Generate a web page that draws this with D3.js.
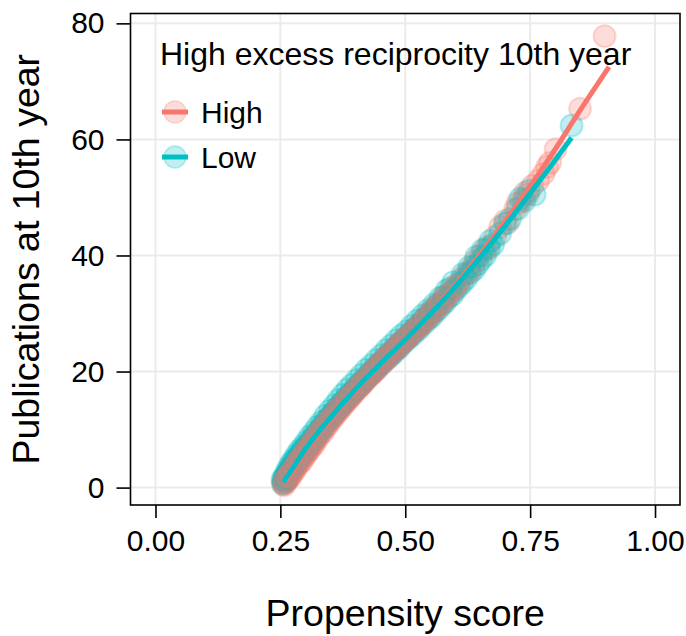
<!DOCTYPE html>
<html><head><meta charset="utf-8">
<script src="https://cdn.jsdelivr.net/npm/d3@7"></script>
<style>body{margin:0;background:#fff}svg{display:block}text{font-family:"Liberation Sans",Arial,Helvetica,sans-serif;fill:#000}</style>
</head><body><svg id="c" width="686" height="636"></svg>
<script>
// ---- data ----
const xTicks = [0, 0.25, 0.5, 0.75, 1];
const xTickLabels = ["0.00", "0.25", "0.50", "0.75", "1.00"];
const yTicks = [0, 20, 40, 60, 80];
const yTickLabels = ["0", "20", "40", "60", "80"];
const groups = ["High", "Low"];
const groupColors = ["#F8766D", "#00BFC4"];
const legendTitle = "High excess reciprocity 10th year";
const xTitle = "Propensity score";
const yTitle = "Publications at 10th year";

const highX = [0.262,0.268,0.275,0.282,0.290,0.298,0.305,0.313,0.320,0.330,0.340,0.350,0.360,0.370,0.380,0.390,0.400,0.410,0.420,0.430,0.440,0.450,0.460,0.470,0.480,0.490,0.500,0.510,0.520,0.530,0.540,0.550,0.560,0.575,0.590,0.605,0.620,0.635,0.650,0.665,0.680,0.690,0.705,0.720,0.735,0.745,0.755,0.766,0.777,0.784,0.790,0.801,0.850,0.899,
  0.258,0.265,0.271,0.278,0.285,0.293,0.301,0.309,0.317,0.325,0.335,0.345,0.355,0.365,0.375,0.385,0.395,0.405,0.415,0.425,0.435,0.445,0.455,0.465,0.475,0.485,0.495,0.505,0.515,0.525,0.535,0.545,0.555,0.567,0.582,0.597,0.612,0.627,
  0.256,0.260,0.266,0.273,0.280,0.287,0.295,0.303,0.311,0.319,0.328,0.337,0.347,0.357,0.367,0.378,0.388,0.398,0.409,0.419,0.429,0.439,0.449,0.459,0.469,0.479,0.489,0.499,0.511,0.523,0.536,0.549,0.563,0.578,0.640,0.660,0.700,0.725,0.740,
  0.259,0.264,0.270,0.277,0.284,0.291,0.299,0.307,0.315,0.323,0.332,0.342,0.352,0.362,0.372,0.383,0.393,0.404,0.414,0.424,0.434,0.444,0.454,0.464,0.474,0.484,0.494,0.504,0.516,0.528,0.541,0.554,0.568,0.584,0.600];
const highY = [1.0,1.6,2.6,3.4,4.3,5.3,6.2,7.2,8.0,9.2,10.3,11.5,12.6,13.6,14.7,15.6,16.7,17.5,18.6,19.4,20.4,21.3,22.1,23.0,23.9,24.6,25.6,26.4,27.3,28.0,29.0,29.8,30.7,32.0,33.6,35.0,36.6,38.0,40.0,41.5,43.2,44.9,45.6,48.0,49.6,50.5,52.0,52.9,54.1,55.3,56.0,58.3,65.3,77.8,
  0.4,1.5,2.0,2.9,3.9,4.6,5.7,6.5,7.4,8.5,9.6,10.8,11.9,13.0,14.0,15.0,16.0,17.0,17.9,18.9,19.7,20.6,21.6,22.4,23.3,24.1,25.0,25.8,26.7,27.5,28.4,29.3,30.1,31.3,32.6,34.1,35.8,37.2,
  0.7,1.3,2.1,3.0,3.8,4.8,5.6,6.6,7.5,8.4,9.6,10.5,11.6,12.5,13.6,14.6,15.7,16.5,17.6,18.4,19.5,20.3,21.3,22.0,23.0,23.8,24.8,25.5,26.6,27.6,28.7,30.0,31.2,32.8,39.0,41.0,46.0,49.0,50.8,
  1.1,1.9,2.4,3.4,4.3,5.1,6.1,7.0,7.9,8.9,9.9,11.1,12.0,13.2,14.1,15.2,16.1,17.2,18.0,19.0,19.9,20.8,21.8,22.6,23.5,24.3,25.2,26.0,27.0,28.0,29.2,30.4,31.7,33.2,34.6];

const lowX = [0.255,0.256,0.257,0.258,0.260,0.261,0.263,0.265,0.267,0.270,0.272,0.275,0.278,0.280,0.283,0.286,0.290,0.293,0.296,0.300,0.304,0.308,0.312,0.316,0.320,0.325,0.330,0.334,0.338,0.343,0.348,0.352,0.357,0.362,0.367,0.372,0.377,0.382,0.387,0.392,0.397,0.402,0.408,0.413,0.418,0.424,0.430,0.435,0.441,0.447,0.453,0.459,0.465,0.471,0.477,0.483,0.489,0.495,0.501,0.507,0.514,0.520,0.527,0.533,0.540,0.547,0.553,0.560,0.567,0.574,0.580,0.587,0.594,0.600,0.607,0.614,0.622,0.630,0.638,0.645,0.652,0.660,0.668,0.676,0.690,0.710,0.725,0.739,0.748,0.759,0.833,
  0.254,0.259,0.262,0.266,0.271,0.276,0.282,0.288,0.295,0.302,0.309,0.317,0.324,0.332,0.340,0.349,0.358,0.366,0.375,0.384,0.393,0.403,0.412,0.422,0.432,0.442,0.452,0.462,0.472,0.482,0.492,0.503,0.513,0.524,0.535,0.546,0.558,0.570,0.583,0.596,
  0.257,0.262,0.268,0.274,0.281,0.289,0.297,0.305,0.314,0.322,0.331,0.341,0.351,0.361,0.371,0.381,0.391,0.401,0.411,0.421,0.431,0.441,0.451,0.461,0.471,0.481,0.491,0.502,0.513,0.525,0.537,0.550,0.563,0.577,0.591,0.615,0.628,0.642,0.655,0.670,0.700,0.730];
const lowY = [0.6,1.0,0.8,1.3,1.1,1.8,2.2,2.0,2.9,3.1,3.6,3.8,4.5,4.4,5.1,5.3,5.9,6.0,6.6,6.8,7.4,7.6,8.3,8.5,9.2,9.4,10.1,10.8,10.9,11.7,12.0,12.6,12.9,13.6,13.9,14.5,14.8,15.5,15.7,16.3,16.6,17.2,17.5,18.2,18.4,19.1,19.4,20.0,20.2,21.0,21.3,21.9,22.3,22.8,23.2,23.9,24.2,24.9,25.3,25.8,26.3,26.9,27.3,28.0,28.5,29.1,29.5,30.3,30.8,31.5,32.0,32.8,33.2,34.0,34.6,35.3,36.0,37.0,37.6,38.5,39.3,40.0,41.2,41.9,43.8,46.3,48.0,49.4,51.2,50.5,62.4,
  1.4,2.0,2.6,3.4,4.1,4.8,5.6,6.4,7.1,7.9,8.8,9.6,10.5,11.3,12.4,13.3,14.2,15.1,16.0,16.9,17.7,18.6,19.4,20.3,21.1,22.0,22.8,23.7,24.5,25.4,26.2,27.0,27.9,28.8,29.7,30.6,31.6,32.7,34.0,35.4,
  1.6,1.5,2.5,3.3,4.0,5.0,5.9,6.9,7.9,8.8,9.9,11.0,12.1,13.1,14.1,15.1,16.1,17.0,17.9,18.8,19.8,20.7,21.5,22.5,23.3,24.2,25.0,25.9,26.9,27.9,29.0,30.2,31.4,32.9,34.4,36.8,38.0,39.8,41.0,42.5,45.5,49.8];

const highFitX = [0.262,0.30,0.35,0.40,0.45,0.50,0.55,0.60,0.65,0.70,0.75,0.80,0.85,0.908];
const highFitY = [1.2,6.3,11.7,16.7,21.2,25.5,30.0,34.9,40.2,45.9,51.9,58.3,65.0,72.5];
const lowFitX = [0.256,0.28,0.30,0.35,0.40,0.45,0.50,0.55,0.60,0.65,0.70,0.75,0.80,0.833];
const lowFitY = [1.0,4.0,6.6,12.0,16.9,21.3,25.5,29.9,34.6,39.7,45.1,50.7,56.4,60.3];

// ---- layout ----
const svg = d3.select("#c");
const L = 130.5, R = 680, T = 13.5, B = 505;
const x = d3.scaleLinear().domain([-0.05, 1.05]).range([L, R]);
const y = d3.scaleLinear().domain([-3.0, 81.7]).range([B, T]);
const FS = 30, TS = 37.5;

// grid
const g = svg.append("g");
g.selectAll(".gx").data(xTicks).enter().append("line")
  .attr("x1", d => x(d)).attr("x2", d => x(d)).attr("y1", T).attr("y2", B)
  .attr("stroke", "#EBEBEB").attr("stroke-width", 2);
g.selectAll(".gy").data(yTicks).enter().append("line")
  .attr("y1", d => y(d)).attr("y2", d => y(d)).attr("x1", L).attr("x2", R)
  .attr("stroke", "#EBEBEB").attr("stroke-width", 2);

// points (interleaved drawing order)
const pts = [];
const nH = highX.length, nL = lowX.length;
highX.forEach((v, i) => pts.push({x: v, y: highY[i], g: 0, o: (i + 0.5) / nH}));
lowX.forEach((v, i) => pts.push({x: v, y: lowY[i], g: 1, o: i / nL}));
pts.sort((a, b) => a.o - b.o);
svg.append("g").selectAll("circle").data(pts).enter().append("circle")
  .attr("cx", d => x(d.x)).attr("cy", d => y(d.y)).attr("r", 11)
  .attr("fill", d => groupColors[d.g]).attr("fill-opacity", 0.25)
  .attr("stroke", d => groupColors[d.g]).attr("stroke-opacity", 0.25).attr("stroke-width", 2);

// fitted lines
const line = d3.line().x(d => x(d[0])).y(d => y(d[1])).curve(d3.curveMonotoneX);
const fits = [d3.zip(highFitX, highFitY), d3.zip(lowFitX, lowFitY)];
fits.forEach((f, i) => svg.append("path").attr("d", line(f)).attr("fill", "none")
  .attr("stroke", groupColors[i]).attr("stroke-width", 5));

// panel border
svg.append("rect").attr("x", L).attr("y", T).attr("width", R - L).attr("height", B - T)
  .attr("fill", "none").attr("stroke", "#000").attr("stroke-width", 1.6);

// axes
const xa = svg.append("g").attr("transform", `translate(0,${B})`)
  .call(d3.axisBottom(x).tickValues(xTicks).tickFormat((d, i) => xTickLabels[i]).tickSize(13).tickPadding(12));
const ya = svg.append("g").attr("transform", `translate(${L},0)`)
  .call(d3.axisLeft(y).tickValues(yTicks).tickFormat((d, i) => yTickLabels[i]).tickSize(14).tickPadding(12));
[xa, ya].forEach(a => {
  a.select(".domain").remove();
  a.selectAll(".tick line").attr("stroke", "#000").attr("stroke-width", 1.6);
  a.selectAll(".tick text").attr("font-size", FS).attr("font-family", "Liberation Sans, Arial, sans-serif").attr("fill", "#000");
});

// titles
svg.append("text").attr("x", (L + R) / 2).attr("y", 626).attr("text-anchor", "middle")
  .attr("font-size", TS).text(xTitle);
svg.append("text").attr("transform", `translate(39,${(T + B) / 2}) rotate(-90)`)
  .attr("text-anchor", "middle").attr("font-size", TS).text(yTitle);

// legend
const lg = svg.append("g");
lg.append("text").attr("x", 160).attr("y", 65).attr("font-size", 32).text(legendTitle);
groups.forEach((name, i) => {
  const cy = 112 + i * 45;
  lg.append("circle").attr("cx", 175).attr("cy", cy).attr("r", 11)
    .attr("fill", groupColors[i]).attr("fill-opacity", 0.25)
    .attr("stroke", groupColors[i]).attr("stroke-opacity", 0.25).attr("stroke-width", 1.5);
  lg.append("line").attr("x1", 162).attr("x2", 188).attr("y1", cy).attr("y2", cy)
    .attr("stroke", groupColors[i]).attr("stroke-width", 5);
  lg.append("text").attr("x", 201).attr("y", cy + 11).attr("font-size", FS).text(name);
});
</script></body></html>
